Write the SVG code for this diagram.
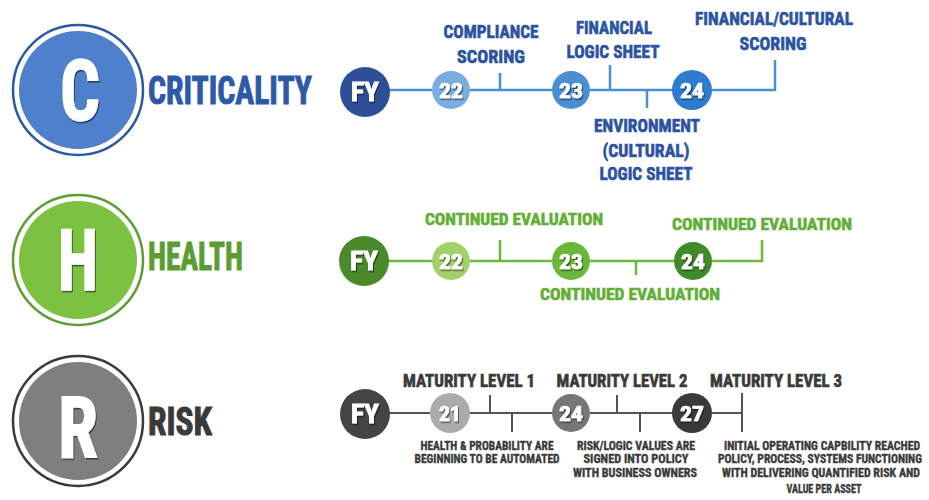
<svg xmlns="http://www.w3.org/2000/svg" width="929" height="500" viewBox="0 0 929 500">
<defs>
<filter id="sh" x="-20%" y="-20%" width="140%" height="140%">
<feDropShadow dx="1" dy="1.5" stdDeviation="0.6" flood-color="#000" flood-opacity="0.55"/>
</filter>
<style>
text{font-family:"Liberation Sans Narrow","Roboto Condensed","DejaVu Sans Condensed","Liberation Sans",sans-serif;font-weight:bold;text-anchor:middle}
.big{fill:#fff;stroke:#fff;stroke-width:1.5;font-size:86px;filter:url(#sh)}
.num{fill:#fff;stroke:#fff;stroke-width:0.7;font-size:21px;filter:url(#sh)}
.fy{fill:#fff;stroke:#fff;stroke-width:0.8;font-size:26px;filter:url(#sh)}
.title{font-size:38px;text-anchor:start;stroke-width:1}
.cb{fill:#2c539f;stroke:#2c539f;stroke-width:0.6;font-size:19px}
.hg{fill:#62ae36;stroke:#62ae36;stroke-width:0.6;font-size:17px}
.rg{fill:#3a3a3a;stroke:#3a3a3a;stroke-width:0.6;font-size:18px}
.rs{fill:#3a3a3a;stroke:#3a3a3a;stroke-width:0.35;font-size:12px}
.lb{stroke:#4a8fd4;stroke-width:2.5;fill:none}
.lg{stroke:#6cb83c;stroke-width:2.5;fill:none}
.lr{stroke:#555;stroke-width:2;fill:none}
</style>
</defs>
<rect width="929" height="500" fill="#fff"/>

<g id="criticality">
<circle cx="78" cy="90" r="65" fill="#fff" stroke="#2c5aa0" stroke-width="2.5"/>
<circle cx="78" cy="90" r="59" fill="#4f80cc"/>
<text class="big" x="80" y="120" textLength="40" lengthAdjust="spacingAndGlyphs">C</text>
<text class="title" x="148" y="104" fill="#2c5aa6" stroke="#2c5aa6" textLength="164" lengthAdjust="spacingAndGlyphs">CRITICALITY</text>
</g>
<g id="health">
<circle cx="78" cy="260" r="65" fill="#fff" stroke="#5a9e35" stroke-width="2.5"/>
<circle cx="78" cy="260" r="59" fill="#7dc142"/>
<text class="big" x="78" y="290" textLength="40" lengthAdjust="spacingAndGlyphs">H</text>
<text class="title" x="148" y="270" fill="#5a9e32" stroke="#5a9e32" textLength="95" lengthAdjust="spacingAndGlyphs">HEALTH</text>
</g>
<g id="risk">
<circle cx="78" cy="421" r="65" fill="#fff" stroke="#3a3a3a" stroke-width="2.5"/>
<circle cx="78" cy="421" r="59" fill="#7f7f7f"/>
<text class="big" x="78" y="457" textLength="40" lengthAdjust="spacingAndGlyphs">R</text>
<text class="title" x="148" y="435" fill="#3a3a3a" stroke="#3a3a3a" textLength="64" lengthAdjust="spacingAndGlyphs">RISK</text>
</g>

<g id="connectors">
<path class="lb" d="M389 90H432M470 90H552M500 90V73M590 90H673M610 90V65M647 90V108M712 90H775V60"/>
<path class="lg" d="M389 261H432M470 261H552M500 261V240M590 261H674M636 261V275M712 261H762V240"/>
<path class="lr" d="M389 413H430M470 413H552M490 413V395M512 413V432M590 413H673M617 413V395M640 413V432M712 413H742M742 393V432"/>
</g>

<g id="c-fy"><circle cx="365" cy="92" r="25" fill="#2c4f97"/><text class="fy" x="365" y="101" textLength="28" lengthAdjust="spacingAndGlyphs">FY</text></g>
<g id="c-22"><circle cx="451" cy="90" r="19" fill="#7aaee0"/><text class="num" x="451" y="98" textLength="24" lengthAdjust="spacingAndGlyphs">22</text></g>
<g id="c-23"><circle cx="571" cy="90" r="19" fill="#4a8fd4"/><text class="num" x="571" y="98" textLength="24" lengthAdjust="spacingAndGlyphs">23</text></g>
<g id="c-24"><circle cx="692" cy="90" r="20" fill="#2e7bd0"/><text class="num" x="692" y="98" textLength="24" lengthAdjust="spacingAndGlyphs">24</text></g>

<g id="c-labels">
<text class="cb" x="491" y="38" textLength="95" lengthAdjust="spacingAndGlyphs">COMPLIANCE</text>
<text class="cb" x="491" y="63" textLength="68" lengthAdjust="spacingAndGlyphs">SCORING</text>
<text class="cb" x="614" y="34" textLength="76" lengthAdjust="spacingAndGlyphs">FINANCIAL</text>
<text class="cb" x="613" y="58" textLength="93" lengthAdjust="spacingAndGlyphs">LOGIC SHEET</text>
<text class="cb" x="774" y="25" textLength="158" lengthAdjust="spacingAndGlyphs">FINANCIAL/CULTURAL</text>
<text class="cb" x="773" y="50" textLength="67" lengthAdjust="spacingAndGlyphs">SCORING</text>
<text class="cb" x="647" y="132" textLength="106" lengthAdjust="spacingAndGlyphs">ENVIRONMENT</text>
<text class="cb" x="646" y="157" textLength="87" lengthAdjust="spacingAndGlyphs">(CULTURAL)</text>
<text class="cb" x="646" y="180" textLength="93" lengthAdjust="spacingAndGlyphs">LOGIC SHEET</text>
</g>

<g id="h-fy"><circle cx="364" cy="261" r="25" fill="#4a8a2a"/><text class="fy" x="364" y="270" textLength="28" lengthAdjust="spacingAndGlyphs">FY</text></g>
<g id="h-22"><circle cx="451" cy="261" r="19" fill="#a2d06a"/><text class="num" x="451" y="269" textLength="24" lengthAdjust="spacingAndGlyphs">22</text></g>
<g id="h-23"><circle cx="571" cy="261" r="19" fill="#6ab83a"/><text class="num" x="571" y="269" textLength="24" lengthAdjust="spacingAndGlyphs">23</text></g>
<g id="h-24"><circle cx="693" cy="261" r="19" fill="#3f8a2a"/><text class="num" x="693" y="269" textLength="24" lengthAdjust="spacingAndGlyphs">24</text></g>

<g id="h-labels">
<text class="hg" x="514" y="225" textLength="178" lengthAdjust="spacingAndGlyphs">CONTINUED EVALUATION</text>
<text class="hg" x="630" y="300" textLength="180" lengthAdjust="spacingAndGlyphs">CONTINUED EVALUATION</text>
<text class="hg" x="762" y="230" textLength="180" lengthAdjust="spacingAndGlyphs">CONTINUED EVALUATION</text>
</g>

<g id="r-fy"><circle cx="365" cy="414" r="25" fill="#444"/><text class="fy" x="365" y="423" textLength="28" lengthAdjust="spacingAndGlyphs">FY</text></g>
<g id="r-21"><circle cx="450" cy="413" r="20" fill="#ababab"/><text class="num" x="450" y="421" textLength="22" lengthAdjust="spacingAndGlyphs">21</text></g>
<g id="r-24"><circle cx="571" cy="413" r="19" fill="#777"/><text class="num" x="571" y="421" textLength="24" lengthAdjust="spacingAndGlyphs">24</text></g>
<g id="r-27"><circle cx="692" cy="413" r="20" fill="#3a3a3a"/><text class="num" x="692" y="421" textLength="24" lengthAdjust="spacingAndGlyphs">27</text></g>

<g id="r-labels">
<text class="rg" x="469" y="387" textLength="132" lengthAdjust="spacingAndGlyphs">MATURITY LEVEL 1</text>
<text class="rg" x="622" y="387" textLength="131" lengthAdjust="spacingAndGlyphs">MATURITY LEVEL 2</text>
<text class="rg" x="776" y="387" textLength="132" lengthAdjust="spacingAndGlyphs">MATURITY LEVEL 3</text>
<text class="rs" x="487" y="450" textLength="133" lengthAdjust="spacingAndGlyphs">HEALTH &amp; PROBABILITY ARE</text>
<text class="rs" x="487" y="463" textLength="145" lengthAdjust="spacingAndGlyphs">BEGINNING TO BE AUTOMATED</text>
<text class="rs" x="636" y="450" textLength="118" lengthAdjust="spacingAndGlyphs">RISK/LOGIC VALUES ARE</text>
<text class="rs" x="636" y="463" textLength="105" lengthAdjust="spacingAndGlyphs">SIGNED INTO POLICY</text>
<text class="rs" x="635" y="477" textLength="124" lengthAdjust="spacingAndGlyphs">WITH BUSINESS OWNERS</text>
<text class="rs" x="822" y="450" textLength="196" lengthAdjust="spacingAndGlyphs">INITIAL OPERATING CAPBILITY REACHED</text>
<text class="rs" x="820" y="463" textLength="204" lengthAdjust="spacingAndGlyphs">POLICY, PROCESS, SYSTEMS FUNCTIONING</text>
<text class="rs" x="821" y="477" textLength="198" lengthAdjust="spacingAndGlyphs">WITH DELIVERING QUANTIFIED RISK AND</text>
<text class="rs" x="824" y="493" textLength="75" lengthAdjust="spacingAndGlyphs">VALUE PER ASSET</text>
</g>
</svg>
